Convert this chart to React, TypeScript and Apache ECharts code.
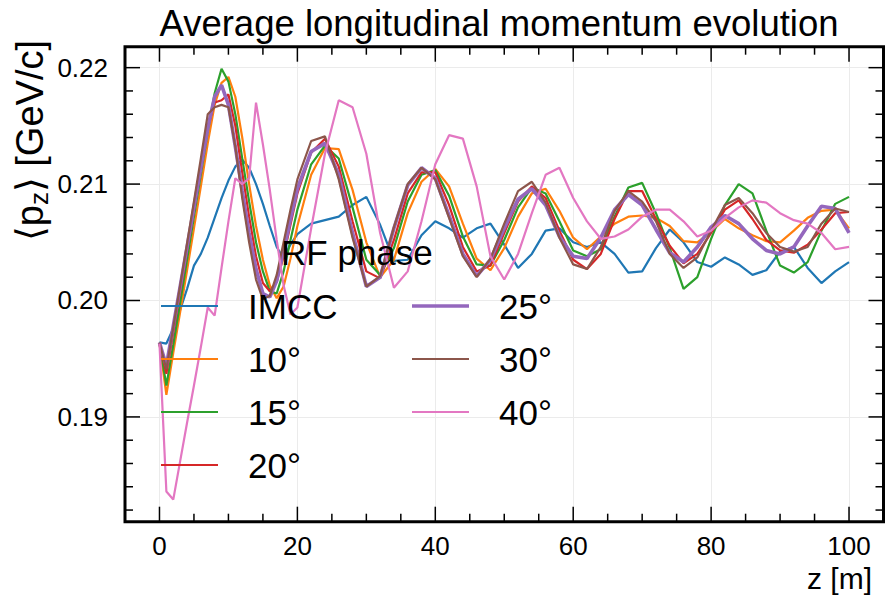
import React, { useEffect, useRef } from "react";
import * as echarts from "echarts";

// z positions [m]
const Z = [
  0, 1, 2, 3, 4, 5, 6, 7, 8, 9, 10, 11, 12, 13, 14, 15, 16, 17, 18, 19, 20,
  22, 24, 26, 28, 30, 32, 34, 36, 38, 40, 42, 44, 46, 48, 50, 52, 54, 56, 58, 60,
  62, 64, 66, 68, 70, 72, 74, 76, 78, 80, 82, 84, 86, 88, 90, 92, 94, 96, 98, 100,
];

const IMCC = [
  0.1964, 0.1963, 0.1976, 0.1992, 0.201, 0.203, 0.204, 0.2054, 0.2071, 0.2088, 0.2103,
  0.2115, 0.2121, 0.2114, 0.21, 0.2083, 0.2064, 0.2046, 0.2036, 0.2048, 0.2057,
  0.2066, 0.2069, 0.2072, 0.2082, 0.2089, 0.2065, 0.2034, 0.2035, 0.2056, 0.2068,
  0.2062, 0.2054, 0.2062, 0.2066, 0.2048, 0.2028, 0.204, 0.206, 0.2062, 0.205,
  0.2046, 0.205, 0.204, 0.2024, 0.2025, 0.2045, 0.2061, 0.205, 0.2033, 0.2029,
  0.2037, 0.2031, 0.2022, 0.2026, 0.2042, 0.2046, 0.2028, 0.2015, 0.2025, 0.2033,
];
const PHASE_10 = [
  0.1963, 0.1919, 0.1955, 0.199, 0.2026, 0.2062, 0.2098, 0.2135, 0.2168, 0.2187, 0.2192,
  0.2175, 0.214, 0.21, 0.2064, 0.2035, 0.2013, 0.2002, 0.2012, 0.2036, 0.2064,
  0.2108, 0.2131, 0.213, 0.2095, 0.205, 0.202, 0.2035, 0.2075, 0.2102, 0.2113,
  0.2098, 0.2066, 0.2036, 0.2026, 0.2045, 0.2072, 0.2092, 0.2096, 0.2077, 0.2054,
  0.2044, 0.2055, 0.2066, 0.2072, 0.2073, 0.2071, 0.2064, 0.2051, 0.205, 0.2059,
  0.207, 0.2062, 0.2056, 0.2051, 0.205, 0.206, 0.2071, 0.2077, 0.2078, 0.2062,
];
const PHASE_15 = [
  0.1963, 0.1927, 0.1962, 0.1998, 0.2035, 0.2072, 0.2108, 0.2145, 0.2178, 0.2199, 0.2188,
  0.216, 0.2122, 0.2085, 0.205, 0.2025, 0.2008, 0.2006, 0.2025, 0.2052, 0.2078,
  0.2117, 0.2133, 0.2122, 0.208, 0.2035, 0.2022, 0.2045, 0.2085, 0.2108, 0.2112,
  0.209, 0.2055, 0.2031, 0.203, 0.2052, 0.208, 0.2097, 0.2092, 0.2068, 0.2043,
  0.2038, 0.2044, 0.2072, 0.2097, 0.2101, 0.2075, 0.2045, 0.201, 0.202, 0.2053,
  0.2082, 0.21, 0.2092, 0.206, 0.203, 0.2024, 0.2033, 0.206, 0.2083, 0.2089,
];
const PHASE_20 = [
  0.1963, 0.1937, 0.1972, 0.2007, 0.2042, 0.2077, 0.2112, 0.2148, 0.217, 0.2172, 0.2177,
  0.215, 0.211, 0.2072, 0.2038, 0.2015, 0.2008, 0.2016, 0.2038, 0.2065, 0.2092,
  0.2127, 0.2139, 0.2115, 0.2068, 0.2025, 0.2019, 0.2052, 0.2092, 0.211, 0.211,
  0.2082, 0.2046, 0.2025, 0.203, 0.2058, 0.2085, 0.2098, 0.2088, 0.206, 0.2035,
  0.2027, 0.204, 0.207, 0.2094, 0.2094, 0.207, 0.2047, 0.2032, 0.204, 0.2058,
  0.2078, 0.2086, 0.207, 0.2052, 0.2043, 0.2041, 0.2048, 0.2061, 0.2075, 0.2076,
];
const PHASE_25 = [
  0.1964, 0.1944, 0.1978, 0.2012, 0.2046, 0.208, 0.2114, 0.2148, 0.2175, 0.2185, 0.2168,
  0.2132, 0.2094, 0.2058, 0.2027, 0.2006, 0.2003, 0.2017, 0.2042, 0.207, 0.2096,
  0.2128, 0.2135, 0.2108, 0.2058, 0.2012, 0.202, 0.2062, 0.2099, 0.2114, 0.2105,
  0.2073, 0.204, 0.2021, 0.2035, 0.2062, 0.2087, 0.2096, 0.2082, 0.2055, 0.2038,
  0.2036, 0.2054, 0.2078, 0.2091, 0.2082, 0.2061, 0.2041, 0.2033, 0.2046, 0.2063,
  0.2073, 0.2066, 0.2053, 0.2043, 0.204, 0.2046, 0.2064, 0.2081, 0.2079, 0.2058,
];
const PHASE_30 = [
  0.1964, 0.1941, 0.1977, 0.2013, 0.2049, 0.2085, 0.2122, 0.216, 0.2166, 0.2168, 0.2166,
  0.2132, 0.2088, 0.205, 0.2018, 0.2001, 0.2004, 0.2022, 0.205, 0.2078, 0.2104,
  0.2137, 0.2141, 0.2104, 0.2054, 0.2012, 0.2021, 0.2063, 0.21, 0.2114, 0.2104,
  0.2071, 0.2038, 0.202, 0.2036, 0.2066, 0.2094, 0.2102, 0.2084, 0.2054, 0.2031,
  0.2027, 0.2046, 0.2077, 0.2094, 0.2085, 0.2068, 0.204, 0.2028, 0.2037, 0.206,
  0.2082, 0.2088, 0.2075, 0.2058, 0.2046, 0.2042, 0.2046, 0.2066, 0.2079, 0.2076,
];
const PHASE_40 = [
  0.1963, 0.1836, 0.1829, 0.1862, 0.1895, 0.1927, 0.196, 0.1994, 0.1987, 0.2028, 0.2068,
  0.2105, 0.21, 0.2105, 0.217, 0.2134, 0.2095, 0.2052, 0.2013, 0.1988, 0.1994,
  0.2062, 0.2126, 0.2172, 0.2166, 0.2126, 0.2058, 0.2011, 0.2025, 0.2068, 0.2117,
  0.2142, 0.2139, 0.2098, 0.2038, 0.2018, 0.204, 0.2075, 0.2108, 0.2114, 0.2088,
  0.2068, 0.2053, 0.2055, 0.2061, 0.2072, 0.2078, 0.2078, 0.2068, 0.2055, 0.206,
  0.2071, 0.208, 0.2086, 0.2084, 0.2075, 0.2069, 0.2066, 0.2058, 0.2044, 0.2046,
];

const SERIES_NAMES = ["IMCC", "10°", "15°", "20°", "25°", "30°", "40°"];
const SERIES_VALUES = [IMCC, PHASE_10, PHASE_15, PHASE_20, PHASE_25, PHASE_30, PHASE_40];
const COLORS = ["#1f77b4", "#ff7f0e", "#2ca02c", "#d62728", "#9467bd", "#8c564b", "#e377c2"];
const WIDTHS = [2.2, 2.2, 2.2, 2.2, 3.6, 2.2, 2.2];

const X_MAJOR = [0, 20, 40, 60, 80, 100];
const X_MINOR = [5, 10, 15, 25, 30, 35, 45, 50, 55, 65, 70, 75, 85, 90, 95];
const Y_MAJOR = [0.19, 0.2, 0.21, 0.22];
const Y_MINOR = [
  0.182, 0.184, 0.186, 0.188, 0.192, 0.194, 0.196, 0.198, 0.202, 0.204, 0.206, 0.208,
  0.212, 0.214, 0.216, 0.218,
];

const TITLE = "Average longitudinal momentum evolution";
const LEGEND_TITLE = "RF phase";
const X_NAME = "z [m]";
const Y_NAME = "⟨p{s|z}⟩ [GeV/c]";

const FONT = "'Liberation Sans', Arial, Helvetica, 'DejaVu Sans', sans-serif";
const X_MIN = -5;
const X_MAX = 105;
const Y_MIN = 0.181;
const Y_MAX = 0.2218;

export default function App() {
  const ref = useRef<HTMLDivElement>(null);

  useEffect(() => {
    if (!ref.current) return;
    const chart = echarts.init(ref.current, undefined, { renderer: "svg" });

    const series: any[] = SERIES_NAMES.map((name, k) => ({
      name,
      type: "line",
      symbol: "none",
      showSymbol: false,
      data: Z.map((z, i) => [z, SERIES_VALUES[k][i]]),
      lineStyle: { width: WIDTHS[k], color: COLORS[k] },
      itemStyle: { color: COLORS[k] },
      emphasis: { disabled: true },
    }));

    const legendItems = SERIES_NAMES.map((name, k) => ({
      name,
      icon: `path://M0,0h57v${WIDTHS[k]}h-57z`,
      itemStyle: { color: COLORS[k] },
    }));

    const legendBase = {
      orient: "vertical",
      padding: 0,
      itemWidth: 57,
      itemHeight: 14,
      itemGap: 13,
      z: 20,
      selectedMode: false,
      textStyle: {
        fontSize: 35,
        color: "#000",
        lineHeight: 40,
        fontFamily: FONT,
        padding: [0, 0, 0, 25],
      },
    };

    const texts: any[] = [
      {
        type: "text",
        x: 499,
        y: 23,
        z: 100,
        style: {
          text: TITLE,
          fontSize: 36.5,
          fontFamily: FONT,
          fill: "#000",
          align: "center",
          verticalAlign: "middle",
        },
      },
      {
        type: "text",
        x: 281,
        y: 252,
        z: 100,
        style: {
          text: LEGEND_TITLE,
          fontSize: 35,
          fontFamily: FONT,
          fill: "#000",
          align: "left",
          verticalAlign: "middle",
        },
      },
      {
        type: "text",
        x: 872,
        y: 578,
        z: 100,
        style: {
          text: X_NAME,
          fontSize: 30,
          fontFamily: FONT,
          fill: "#000",
          align: "right",
          verticalAlign: "middle",
        },
      },
      {
        type: "text",
        x: 30,
        y: 40,
        z: 100,
        rotation: Math.PI / 2,
        style: {
          text: Y_NAME,
          fontSize: 38,
          lineHeight: 44,
          fontFamily: FONT,
          fill: "#000",
          align: "right",
          verticalAlign: "middle",
          rich: {
            s: { fontSize: 26, lineHeight: 44, verticalAlign: "bottom", fontFamily: FONT },
          },
        },
      },
    ];

    chart.setOption({
      animation: false,
      backgroundColor: "#fff",
      textStyle: { fontFamily: FONT },
      grid: {
        left: 125,
        right: 1.5,
        top: 46.7,
        bottom: 76.3,
        show: false,
        containLabel: false,
        outerBoundsMode: "none",
      },
      xAxis: {
        type: "value",
        min: X_MIN,
        max: X_MAX,
        axisLine: { show: false, onZero: false },
        axisTick: { show: false, customValues: X_MAJOR },
        axisLabel: {
          customValues: X_MAJOR,
          fontSize: 26,
          color: "#000",
          margin: 11,
          fontFamily: FONT,
          formatter: (v: number) => String(Math.round(v)),
        },
        splitLine: { show: true, lineStyle: { color: "#ebebeb", width: 1 } },
        minorTick: { show: false },
      },
      yAxis: {
        type: "value",
        min: Y_MIN,
        max: Y_MAX,
        axisLine: { show: false, onZero: false },
        axisTick: { show: false, customValues: Y_MAJOR },
        axisLabel: {
          customValues: Y_MAJOR,
          fontSize: 26,
          color: "#000",
          margin: 17,
          fontFamily: FONT,
          formatter: (v: number) => v.toFixed(2),
        },
        splitLine: { show: true, lineStyle: { color: "#ebebeb", width: 1 } },
        minorTick: { show: false },
      },
      legend: [
        { ...legendBase, data: legendItems.slice(0, 4), left: 161, top: 286 },
        { ...legendBase, data: legendItems.slice(4), left: 412, top: 286 },
      ],
      graphic: texts,
      series,
    });

    // frame and inward ticks on all four sides, placed through the chart's own scales
    const px = (v: number[]) => chart.convertToPixel({ gridIndex: 0 }, v) as number[];
    const lo = px([X_MIN, Y_MIN]);
    const hi = px([X_MAX, Y_MAX]);
    const extras: any[] = [
      {
        type: "rect",
        z: 60,
        silent: true,
        shape: { x: lo[0], y: hi[1], width: hi[0] - lo[0], height: lo[1] - hi[1] },
        style: { fill: "none", stroke: "#000", lineWidth: 3 },
      },
    ];
    const st = { stroke: "#000", lineWidth: 1.5 };
    const addX = (v: number, len: number) => {
      const x = px([v, Y_MIN])[0];
      extras.push({ type: "line", z: 50, silent: true, shape: { x1: x, y1: lo[1], x2: x, y2: lo[1] - len }, style: st });
      extras.push({ type: "line", z: 50, silent: true, shape: { x1: x, y1: hi[1], x2: x, y2: hi[1] + len }, style: st });
    };
    const addY = (v: number, len: number) => {
      const y = px([X_MIN, v])[1];
      extras.push({ type: "line", z: 50, silent: true, shape: { x1: lo[0], y1: y, x2: lo[0] + len, y2: y }, style: st });
      extras.push({ type: "line", z: 50, silent: true, shape: { x1: hi[0], y1: y, x2: hi[0] - len, y2: y }, style: st });
    };
    X_MAJOR.forEach((v) => addX(v, 15));
    X_MINOR.forEach((v) => addX(v, 8));
    Y_MAJOR.forEach((v) => addY(v, 15));
    Y_MINOR.forEach((v) => addY(v, 8));

    chart.setOption({ graphic: [...texts, ...extras] }, { replaceMerge: ["graphic"] });

    return () => chart.dispose();
  }, []);

  return (
    <div
      ref={ref}
      style={{ position: "fixed", left: 0, top: 0, width: 885, height: 598, background: "#fff" }}
    />
  );
}
